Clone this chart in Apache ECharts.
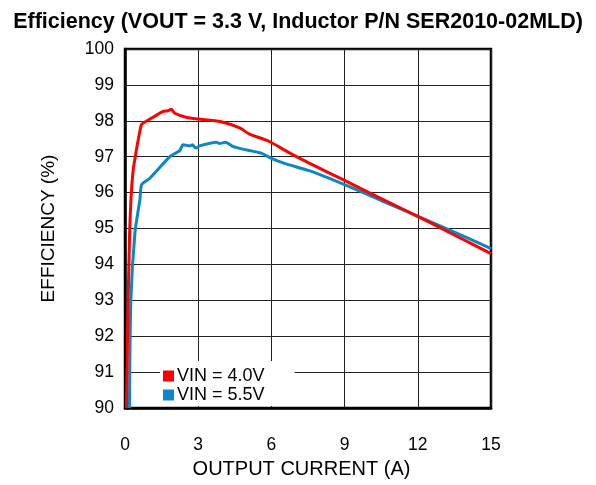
<!DOCTYPE html>
<html><head><meta charset="utf-8">
<script src="https://cdn.jsdelivr.net/npm/echarts@6/dist/echarts.min.js"></script>
<style>html,body{margin:0;padding:0;background:#fff}#c{width:596px;height:485px}</style>
</head><body><div id="c"></div>
<script>
var titleText = 'Efficiency (VOUT = 3.3 V, Inductor P/N SER2010-02MLD)';
var xTicks = [0, 3, 6, 9, 12, 15];
var yTicks = [90, 91, 92, 93, 94, 95, 96, 97, 98, 99, 100];
var seriesNames = ['VIN = 4.0V', 'VIN = 5.5V'];
var vin40 = [[0.06,90],[0.13,93],[0.19,94.9],[0.25,95.9],[0.33,96.6],[0.42,97.0],[0.55,97.5],[0.68,97.9],[0.9,98.0],[1.2,98.12],[1.56,98.26],[1.75,98.28],[1.9,98.32],[2.04,98.21],[2.5,98.1],[3.0,98.05],[3.9,97.98],[4.7,97.8],[5.1,97.63],[5.9,97.43],[6.7,97.12],[7.55,96.82],[9.0,96.34],[10.5,95.83],[12.0,95.34],[13.5,94.82],[15,94.3]];
var vin55 = [[0.18,90],[0.24,93.0],[0.41,94.9],[0.61,95.8],[0.68,96.22],[1.02,96.4],[1.84,97.0],[2.24,97.17],[2.38,97.33],[2.65,97.3],[2.76,97.33],[2.9,97.24],[3.06,97.3],[3.74,97.4],[3.88,97.37],[4.12,97.4],[4.42,97.29],[4.83,97.21],[5.58,97.1],[6.05,96.94],[6.6,96.8],[7.55,96.61],[9.0,96.22],[10.5,95.78],[12.0,95.34],[13.5,94.9],[15,94.44]];
var colors = ['#ff0000', '#0a87c4'];
var font = 'Liberation Sans, Arial, sans-serif';
var chart = echarts.init(document.getElementById('c'));
chart.setOption({
  animation: false,
  title: {text: titleText, left: 'center', top: 6, textStyle: {fontFamily: font, fontSize: 21.5, fontWeight: 'bold', color: '#000'}},
  grid: {left: 125, right: 105, top: 49, bottom: 77, show: true, borderColor: '#000', borderWidth: 2.5, backgroundColor: 'transparent'},
  legend: {
    data: seriesNames, orient: 'vertical', left: 160, top: 361, backgroundColor: '#fff',
    padding: [6, 30, 2, 3], itemGap: 1, itemWidth: 11, itemHeight: 11, icon: 'rect',
    textStyle: {fontFamily: font, fontSize: 18, lineHeight: 18, color: '#000', padding: [0, 0, 0, -2]}
  },
  xAxis: {
    type: 'value', min: xTicks[0], max: xTicks[xTicks.length - 1], interval: 3,
    name: 'OUTPUT CURRENT (A)', nameLocation: 'middle', nameGap: 51,
    nameTextStyle: {fontFamily: font, fontSize: 20, color: '#000', padding: [0, 13, 0, 0]},
    axisLine: {lineStyle: {color: '#000', width: 2.5}},
    axisTick: {show: false},
    axisLabel: {fontFamily: font, fontSize: 17.5, color: '#000', margin: 28},
    splitLine: {show: true, lineStyle: {color: '#222', width: 1}}
  },
  yAxis: {
    type: 'value', min: yTicks[0], max: yTicks[yTicks.length - 1], interval: 1,
    name: 'EFFICIENCY (%)', nameLocation: 'middle', nameGap: 67, nameRotate: 90,
    nameTextStyle: {fontFamily: font, fontSize: 19, color: '#000'},
    axisLine: {lineStyle: {color: '#000', width: 2.5}},
    axisTick: {show: false},
    axisLabel: {fontFamily: font, fontSize: 17.5, color: '#000', margin: 11},
    splitLine: {show: true, lineStyle: {color: '#222', width: 1}}
  },
  series: [
    {name: seriesNames[0], type: 'line', data: vin40, showSymbol: false, smooth: 0.2, z: 3, lineStyle: {color: colors[0], width: 3}, itemStyle: {color: colors[0]}},
    {name: seriesNames[1], type: 'line', data: vin55, showSymbol: false, smooth: 0.2, z: 2, lineStyle: {color: colors[1], width: 3}, itemStyle: {color: colors[1]}}
  ]
});
</script></body></html>
